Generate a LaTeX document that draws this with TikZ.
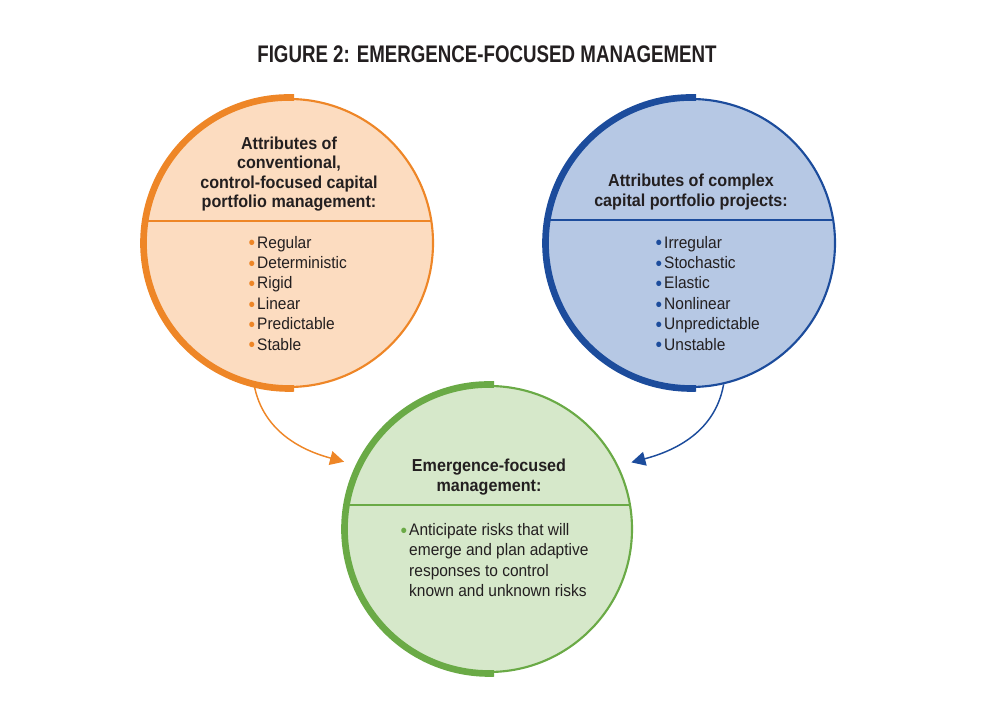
\documentclass[tikz,border=0pt]{standalone}
\usepackage{fontspec}
\setmainfont{Liberation Sans}[FakeStretch=0.93]
\newfontfamily\titlefont{Liberation Sans}[FakeStretch=0.78]
\usetikzlibrary{arrows.meta}

\definecolor{orangeline}{HTML}{EE8627}
\definecolor{orangefill}{HTML}{FCDCC0}
\definecolor{blueline}{HTML}{1C4C9C}
\definecolor{bluefill}{HTML}{B6C8E4}
\definecolor{greenline}{HTML}{6AAA46}
\definecolor{greenfill}{HTML}{D6E8CA}
\definecolor{ink}{HTML}{231F20}

\newcommand{\bul}[1]{{\color{#1line}\raisebox{-1.3pt}{\fontsize{15}{15}\selectfont•}}\hspace{1.5pt}}

\tikzset{
    ring/.style={circle, draw=#1line, fill=#1fill, line width=1.6pt, inner sep=0pt, minimum size=216pt},
    rim/.style={#1line, line width=5pt},
    divider/.style={#1line, line width=1.2pt},
    head/.style={align=center, text=ink, font=\bfseries\fontsize{13}{14.5}\selectfont},
    items/.style={align=left, anchor=west, text=ink, font=\fontsize{12.5}{15.3}\selectfont},
    link/.style={draw=#1line, line width=1.1pt, -{Triangle[length=10.5pt,width=10.5pt]}}
}

\begin{document}
\begin{tikzpicture}[x=0.75pt, y=0.75pt]
    \useasboundingbox (0,0) rectangle (981,724);

    \node[text=ink, font=\titlefont\bfseries\fontsize{18}{20}\selectfont] (title) at (487,670) {FIGURE 2: EMERGENCE-FOCUSED MANAGEMENT};

    % the three circles
    \node[ring=orange] (conv) at (289,481) {};
    \node[ring=blue] (cplx) at (691,481) {};
    \node[ring=green, minimum size=214.5pt] (emrg) at (489,195) {};

    \draw[rim=orange] (289,481) ++(88:145.5) arc (88:272:145.5);
    \draw[rim=blue] (691,481) ++(88:145.5) arc (88:272:145.5);
    \draw[rim=green] (489,195) ++(88:144.5) arc (88:272:144.5);

    \draw[divider=orange] (146.7,503) -- (431.3,503);
    \draw[divider=blue] (548.8,504) -- (833.2,504);
    \draw[divider=green] (348,219) -- (630,219);

    % texts
    \node[head] (convhead) at (289,550) {Attributes of\\conventional,\\control-focused capital\\portfolio management:};
    \node[items] (convlist) at (244,430) {\bul{orange}Regular\\\bul{orange}Deterministic\\\bul{orange}Rigid\\\bul{orange}Linear\\\bul{orange}Predictable\\\bul{orange}Stable};

    \node[head] (cplxhead) at (691,532) {Attributes of complex\\capital portfolio projects:};
    \node[items] (cplxlist) at (651,430) {\bul{blue}Irregular\\\bul{blue}Stochastic\\\bul{blue}Elastic\\\bul{blue}Nonlinear\\\bul{blue}Unpredictable\\\bul{blue}Unstable};

    \node[head] (emrghead) at (489,247) {Emergence-focused\\management:};
    \node[items] (emrglist) at (396,164) {\bul{green}Anticipate risks that will\\\hphantom{\bul{green}}emerge and plan adaptive\\\hphantom{\bul{green}}responses to control\\\hphantom{\bul{green}}known and unknown risks};

    % arrows
    \draw[link=orange, shorten >=12pt] (conv.256) to[out=-80, in=165] (emrg.154);
    \draw[link=blue, shorten >=10pt] (cplx.283) to[out=-100, in=15] (emrg.26);
\end{tikzpicture}
\end{document}
